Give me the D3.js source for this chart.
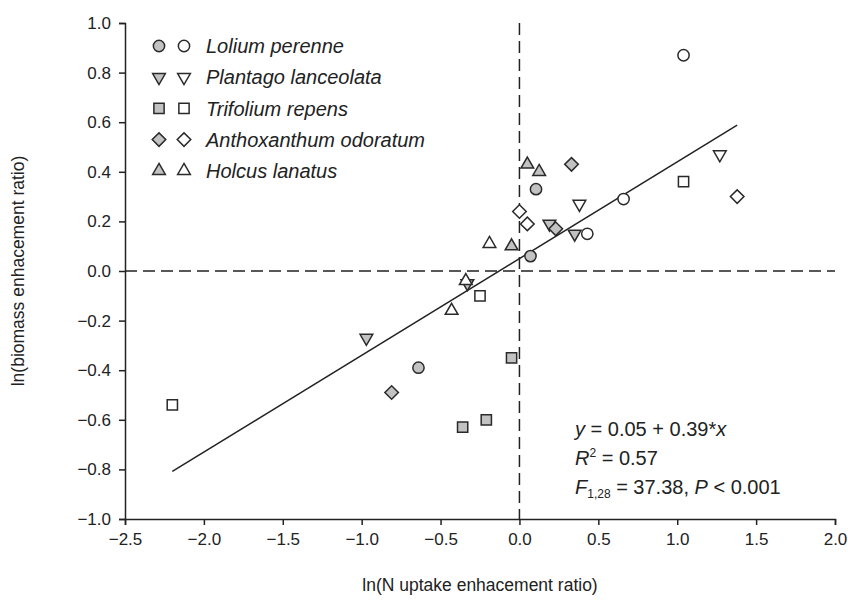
<!DOCTYPE html>
<html>
<head>
<meta charset="utf-8">
<script src="https://cdn.jsdelivr.net/npm/d3@7"></script>
<style>
  body { margin: 0; background: #fff; }
  text { font-family: "Liberation Sans", Arial, sans-serif; fill: #222; }
</style>
</head>
<body>
<div id="chart"></div>
<script>
// species and their symbols
const species = ['Lolium perenne', 'Plantago lanceolata', 'Trifolium repens', 'Anthoxanthum odoratum', 'Holcus lanatus'];
const shapes = ['circle', 'triangleDown', 'square', 'diamond', 'triangleUp'];

// points: [species index, filled?, x, y]
const lolium = [[0, 1, -0.64, -0.39], [0, 1, 0.105, 0.33], [0, 1, 0.07, 0.06],
                [0, 0, 1.04, 0.87], [0, 0, 0.66, 0.29], [0, 0, 0.43, 0.15]];
const plantago = [[1, 1, -0.97, -0.27], [1, 1, 0.35, 0.15], [1, 1, 0.19, 0.19], [1, 1, -0.33, -0.05],
                  [1, 0, 0.38, 0.27], [1, 0, 1.27, 0.47]];
const trifolium = [[2, 1, -0.36, -0.63], [2, 1, -0.21, -0.60], [2, 1, -0.05, -0.35],
                   [2, 0, -0.25, -0.10], [2, 0, -2.20, -0.54], [2, 0, 1.04, 0.36]];
const anthoxanthum = [[3, 1, -0.81, -0.49], [3, 1, 0.33, 0.43], [3, 1, 0.23, 0.17],
                      [3, 0, 0.0, 0.24], [3, 0, 0.05, 0.19], [3, 0, 1.38, 0.30]];
const holcus = [[4, 1, 0.05, 0.43], [4, 1, 0.125, 0.40], [4, 1, -0.05, 0.10],
                [4, 0, -0.19, 0.11], [4, 0, -0.43, -0.16], [4, 0, -0.34, -0.04]];

const xTicks = [-2.5, -2.0, -1.5, -1.0, -0.5, 0.0, 0.5, 1.0, 1.5, 2.0];
const yTicks = [-1.0, -0.8, -0.6, -0.4, -0.2, 0.0, 0.2, 0.4, 0.6, 0.8, 1.0];

// regression fit
const intercept = 0.05;
const slope = 0.39;

const width = 848, height = 604;
const margin = { top: 23, right: 13, bottom: 85, left: 125 };

const svg = d3.select('#chart').append('svg')
    .attr('width', width)
    .attr('height', height);

const x = d3.scaleLinear().domain([-2.5, 2.0]).range([margin.left, width - margin.right]);
const y = d3.scaleLinear().domain([-1.0, 1.0]).range([height - margin.bottom, margin.top]);

const fmt = d => (d < 0 ? '\u2212' : '') + Math.abs(d).toFixed(1);

// axes
const xAxis = svg.append('g')
    .attr('transform', `translate(0,${y(-1)})`)
    .call(d3.axisBottom(x).tickValues(xTicks).tickFormat(fmt).tickSizeOuter(0).tickSize(6).tickPadding(8));
const yAxis = svg.append('g')
    .attr('transform', `translate(${x(-2.5)},0)`)
    .call(d3.axisLeft(y).tickValues(yTicks).tickFormat(fmt).tickSizeOuter(0).tickSize(6).tickPadding(8));
[xAxis, yAxis].forEach(a => {
    a.select('.domain').attr('stroke', '#222').attr('stroke-width', 1.5);
    a.selectAll('.tick line').attr('stroke', '#222').attr('stroke-width', 1.5);
    a.selectAll('.tick text').style('font-size', '17px').attr('fill', '#222')
        .style('font-family', '"Liberation Sans", Arial, sans-serif');
});

// zero reference lines
svg.append('line')
    .attr('x1', x(0)).attr('x2', x(0))
    .attr('y1', y(1)).attr('y2', y(-1))
    .attr('stroke', '#222').attr('stroke-width', 1.5).attr('stroke-dasharray', '12,6');
svg.append('line')
    .attr('x1', x(-2.5)).attr('x2', x(2.0))
    .attr('y1', y(0)).attr('y2', y(0))
    .attr('stroke', '#222').attr('stroke-width', 1.5).attr('stroke-dasharray', '12,6');

// regression line over the data range
const allPoints = [...lolium, ...plantago, ...trifolium, ...anthoxanthum, ...holcus];
const [xmin, xmax] = d3.extent(allPoints, d => d[2]);
svg.append('line')
    .attr('x1', x(xmin)).attr('y1', y(intercept + slope * xmin))
    .attr('x2', x(xmax)).attr('y2', y(intercept + slope * xmax))
    .attr('stroke', '#222').attr('stroke-width', 1.5);

// symbol generator
const symbolPath = shape => {
    if (shape === 'circle') return d3.symbol(d3.symbolCircle, 100)();
    if (shape === 'square') return d3.symbol(d3.symbolSquare, 105)();
    if (shape === 'diamond') return d3.symbol(d3.symbolSquare, 92)();
    return d3.symbol(d3.symbolTriangle, 70)();
};
const symbolRotate = shape => shape === 'diamond' ? 45 : shape === 'triangleDown' ? 180 : 0;

const drawSymbol = (sel, shape, filled, px, py) => {
    sel.append('path')
        .attr('d', symbolPath(shape))
        .attr('transform', `translate(${px},${py}) rotate(${symbolRotate(shape)})`)
        .attr('fill', filled ? '#c2c2c2' : '#fff')
        .attr('stroke', '#2a2a2a')
        .attr('stroke-width', 1.5);
};

const points = svg.append('g');
allPoints.forEach(d => drawSymbol(points, shapes[d[0]], d[1], x(d[2]), y(d[3])));

// legend
const legend = svg.append('g');
species.forEach((name, i) => {
    const ly = 46 + i * 31.2;
    drawSymbol(legend, shapes[i], 1, 159, ly);
    drawSymbol(legend, shapes[i], 0, 184, ly);
    legend.append('text')
        .attr('x', 206).attr('y', ly)
        .attr('dy', '0.36em')
        .style('font-size', '20px')
        .style('font-style', 'italic')
        .text(name);
});

// fit statistics
const stats = svg.append('g').style('font-size', '20px');
const t1 = stats.append('text').attr('x', 575).attr('y', 436);
t1.append('tspan').style('font-style', 'italic').text('y');
t1.append('tspan').text(' = 0.05 + 0.39*');
t1.append('tspan').style('font-style', 'italic').text('x');
const t2 = stats.append('text').attr('x', 575).attr('y', 465);
t2.append('tspan').style('font-style', 'italic').text('R');
t2.append('tspan').attr('dy', -8).style('font-size', '12px').text('2');
t2.append('tspan').attr('dy', 8).text(' = 0.57');
const t3 = stats.append('text').attr('x', 575).attr('y', 494);
t3.append('tspan').style('font-style', 'italic').text('F');
t3.append('tspan').attr('dy', 4).style('font-size', '12px').text('1,28');
t3.append('tspan').attr('dy', -4).text(' = 37.38, ');
t3.append('tspan').style('font-style', 'italic').text('P');
t3.append('tspan').text(' < 0.001');

// axis titles
svg.append('text')
    .attr('x', (x(-2.5) + x(2.0)) / 2).attr('y', 591)
    .attr('text-anchor', 'middle')
    .style('font-size', '17.5px')
    .text('ln(N uptake enhacement ratio)');
svg.append('text')
    .attr('transform', `translate(24,${(y(1) + y(-1)) / 2}) rotate(-90)`)
    .attr('text-anchor', 'middle')
    .style('font-size', '17.5px')
    .text('ln(biomass enhacement ratio)');
</script>
</body>
</html>
